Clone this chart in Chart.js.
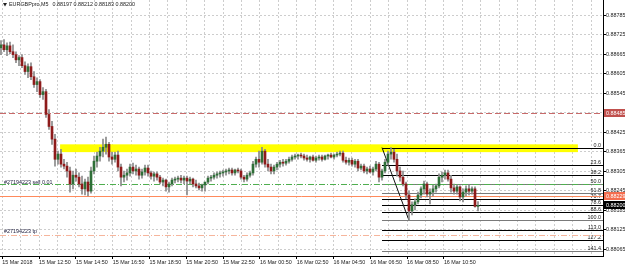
<!DOCTYPE html>
<html>
<head>
<meta charset="utf-8">
<script src="https://cdn.jsdelivr.net/npm/chart.js@4.4.1/dist/chart.umd.min.js"></script>
<style>
  html, body { margin: 0; padding: 0; background: #fff; overflow: hidden; }
  #wrap { width: 625px; height: 267px; position: relative; }
</style>
</head>
<body>
<div id="wrap"><canvas id="chart"></canvas></div>
<script>
/* ── EURGBPpro M5 candles ── */
const open = [
  0.88685,0.88694,0.88679,0.88691,0.88673,0.88664,0.88648,0.88655,0.88630,0.88612,
  0.88627,0.88596,0.88572,0.88581,0.88541,0.88550,0.88480,0.88443,0.88404,0.88342,
  0.88358,0.88327,0.88321,0.88306,0.88266,0.88293,0.88287,0.88266,0.88251,0.88272,
  0.88244,0.88306,0.88336,0.88352,0.88367,0.88379,0.88388,0.88349,0.88342,0.88355,
  0.88318,0.88287,0.88293,0.88300,0.88318,0.88306,0.88312,0.88293,0.88303,0.88315,
  0.88300,0.88290,0.88297,0.88287,0.88272,0.88278,0.88257,0.88266,0.88278,0.88281,
  0.88284,0.88278,0.88284,0.88275,0.88281,0.88266,0.88260,0.88254,0.88263,0.88272,
  0.88284,0.88287,0.88293,0.88297,0.88300,0.88303,0.88306,0.88309,0.88300,0.88309,
  0.88306,0.88287,0.88281,0.88293,0.88300,0.88327,0.88342,0.88333,0.88367,0.88327,
  0.88318,0.88306,0.88318,0.88327,0.88333,0.88330,0.88336,0.88342,0.88349,0.88352,
  0.88355,0.88352,0.88346,0.88342,0.88349,0.88339,0.88346,0.88349,0.88342,0.88352,
  0.88355,0.88349,0.88355,0.88358,0.88361,0.88339,0.88333,0.88339,0.88327,0.88336,
  0.88315,0.88321,0.88306,0.88312,0.88303,0.88312,0.88327,0.88287,0.88306,0.88333,
  0.88358,0.88364,0.88342,0.88306,0.88287,0.88266,0.88232,0.88183,0.88202,0.88211,
  0.88232,0.88251,0.88266,0.88235,0.88241,0.88251,0.88260,0.88287,0.88293,0.88300,
  0.88281,0.88254,0.88244,0.88257,0.88226,0.88241,0.88251,0.88244,0.88251,0.88197
];
const high = [
  0.88707,0.88710,0.88700,0.88703,0.88694,0.88673,0.88661,0.88664,0.88642,0.88636,
  0.88639,0.88612,0.88593,0.88587,0.88563,0.88557,0.88495,0.88459,0.88419,0.88367,
  0.88373,0.88342,0.88333,0.88318,0.88306,0.88312,0.88300,0.88290,0.88281,0.88287,
  0.88318,0.88352,0.88364,0.88379,0.88404,0.88410,0.88394,0.88364,0.88364,0.88367,
  0.88327,0.88306,0.88312,0.88327,0.88330,0.88324,0.88318,0.88312,0.88324,0.88324,
  0.88306,0.88303,0.88303,0.88293,0.88284,0.88281,0.88272,0.88284,0.88287,0.88290,
  0.88293,0.88290,0.88290,0.88287,0.88284,0.88278,0.88269,0.88266,0.88269,0.88290,
  0.88293,0.88300,0.88303,0.88306,0.88309,0.88312,0.88315,0.88315,0.88312,0.88315,
  0.88312,0.88293,0.88300,0.88306,0.88336,0.88349,0.88367,0.88379,0.88373,0.88342,
  0.88327,0.88324,0.88333,0.88339,0.88342,0.88342,0.88349,0.88355,0.88358,0.88358,
  0.88361,0.88358,0.88355,0.88352,0.88355,0.88352,0.88355,0.88355,0.88355,0.88358,
  0.88361,0.88358,0.88364,0.88367,0.88367,0.88349,0.88346,0.88346,0.88342,0.88342,
  0.88327,0.88327,0.88318,0.88321,0.88318,0.88336,0.88333,0.88312,0.88342,0.88367,
  0.88378,0.88373,0.88358,0.88318,0.88306,0.88272,0.88244,0.88211,0.88220,0.88241,
  0.88257,0.88275,0.88272,0.88251,0.88263,0.88266,0.88297,0.88303,0.88309,0.88309,
  0.88293,0.88266,0.88263,0.88260,0.88251,0.88260,0.88263,0.88257,0.88257,0.88212
];
const low = [
  0.88664,0.88673,0.88661,0.88667,0.88655,0.88639,0.88630,0.88624,0.88603,0.88593,
  0.88587,0.88563,0.88550,0.88532,0.88526,0.88471,0.88434,0.88388,0.88321,0.88327,
  0.88318,0.88312,0.88287,0.88241,0.88251,0.88275,0.88257,0.88235,0.88232,0.88229,
  0.88238,0.88297,0.88318,0.88336,0.88349,0.88358,0.88336,0.88327,0.88333,0.88306,
  0.88260,0.88272,0.88278,0.88290,0.88297,0.88293,0.88281,0.88284,0.88293,0.88290,
  0.88281,0.88275,0.88278,0.88266,0.88260,0.88244,0.88241,0.88260,0.88269,0.88272,
  0.88269,0.88266,0.88232,0.88266,0.88257,0.88254,0.88248,0.88244,0.88244,0.88266,
  0.88275,0.88281,0.88284,0.88287,0.88290,0.88293,0.88297,0.88293,0.88293,0.88300,
  0.88281,0.88272,0.88275,0.88287,0.88293,0.88318,0.88318,0.88327,0.88318,0.88306,
  0.88297,0.88297,0.88309,0.88318,0.88321,0.88324,0.88330,0.88336,0.88342,0.88342,
  0.88346,0.88339,0.88336,0.88333,0.88336,0.88333,0.88339,0.88336,0.88339,0.88342,
  0.88346,0.88342,0.88349,0.88352,0.88333,0.88327,0.88324,0.88321,0.88318,0.88306,
  0.88309,0.88300,0.88297,0.88300,0.88293,0.88306,0.88272,0.88278,0.88300,0.88324,
  0.88342,0.88333,0.88290,0.88275,0.88260,0.88220,0.88154,0.88171,0.88186,0.88205,
  0.88223,0.88235,0.88226,0.88205,0.88229,0.88241,0.88254,0.88272,0.88281,0.88275,
  0.88241,0.88235,0.88235,0.88214,0.88211,0.88229,0.88232,0.88235,0.88195,0.88183
];
const close = [
  0.88694,0.88679,0.88691,0.88673,0.88664,0.88648,0.88655,0.88630,0.88612,0.88627,
  0.88596,0.88572,0.88581,0.88541,0.88550,0.88480,0.88443,0.88404,0.88342,0.88358,
  0.88327,0.88321,0.88306,0.88266,0.88293,0.88287,0.88266,0.88251,0.88272,0.88244,
  0.88306,0.88336,0.88352,0.88367,0.88379,0.88388,0.88349,0.88342,0.88355,0.88318,
  0.88287,0.88293,0.88300,0.88318,0.88306,0.88312,0.88293,0.88303,0.88315,0.88300,
  0.88290,0.88297,0.88287,0.88272,0.88278,0.88257,0.88266,0.88278,0.88281,0.88284,
  0.88278,0.88284,0.88275,0.88281,0.88266,0.88260,0.88254,0.88263,0.88272,0.88284,
  0.88287,0.88293,0.88297,0.88300,0.88303,0.88306,0.88309,0.88300,0.88309,0.88306,
  0.88287,0.88281,0.88293,0.88300,0.88327,0.88342,0.88333,0.88367,0.88327,0.88318,
  0.88306,0.88318,0.88327,0.88333,0.88330,0.88336,0.88342,0.88349,0.88352,0.88355,
  0.88352,0.88346,0.88342,0.88349,0.88339,0.88346,0.88349,0.88342,0.88352,0.88355,
  0.88349,0.88355,0.88358,0.88361,0.88339,0.88333,0.88339,0.88327,0.88336,0.88315,
  0.88321,0.88306,0.88312,0.88303,0.88312,0.88327,0.88287,0.88306,0.88333,0.88358,
  0.88364,0.88342,0.88306,0.88287,0.88266,0.88232,0.88183,0.88202,0.88211,0.88232,
  0.88251,0.88266,0.88235,0.88241,0.88251,0.88260,0.88287,0.88293,0.88300,0.88281,
  0.88254,0.88244,0.88257,0.88226,0.88241,0.88251,0.88244,0.88251,0.88197,0.88200
];

/* ── axis labels ── */
const timeLabels = [
  '15 Mar 2018', '15 Mar 12:50', '15 Mar 14:50', '15 Mar 16:50', '15 Mar 18:50',
  '15 Mar 20:50', '15 Mar 22:50', '16 Mar 00:50', '16 Mar 02:50', '16 Mar 04:50',
  '16 Mar 06:50', '16 Mar 08:50', '16 Mar 10:50'
];
const priceTicks = [
  0.88785, 0.88725, 0.88665, 0.88605, 0.88545, 0.88485, 0.88425,
  0.88365, 0.88305, 0.88245, 0.88185, 0.88125, 0.88065
];

/* ── objects on the chart ── */
const header = ['EURGBPpro,M5', '0.88197 0.88212 0.88183 0.88200'];
const alertPrice = 0.88485;          // red dashed line
const sellPrice = 0.88267;           // order line
const orangePrice = 0.88229;         // orange line
const tpPrice = 0.88110;             // take profit
const bidPrice = 0.88200;
const zoneTop = 0.88388, zoneBottom = 0.88364, zoneFrom = 19.7, zoneTo = 192.3;
const fibHigh = 0.88378, fibLow = 0.88154, fibFrom = 127, fibTo = 136;
const fibLevels = [0, 23.6, 38.2, 50, 61.8, 70.7, 78.6, 88.6, 100, 113, 127.2, 141.4];

const FONT = '"Liberation Sans", Arial, sans-serif';
const FS = 5.4;
const UP = '#2f6f38';
const DOWN = '#8e1b1b';
const WICK = '#8a8a8a';

const idx = open.map((_, i) => i);

/* ── Drawing of objects (uses the chart scales) ── */
const objects = {
  id: 'objects',
  beforeDatasetsDraw(chart) {
    const { ctx, chartArea: a, scales: { x, y } } = chart;
    ctx.save();
    ctx.beginPath();
    ctx.rect(a.left, a.top, a.right - a.left, a.bottom - a.top);
    ctx.clip();

    // yellow rectangle
    ctx.fillStyle = '#ffff00';
    const zx1 = x.getPixelForValue(zoneFrom), zx2 = x.getPixelForValue(zoneTo);
    const zy1 = y.getPixelForValue(zoneTop), zy2 = y.getPixelForValue(zoneBottom);
    ctx.fillRect(zx1, zy1, zx2 - zx1, zy2 - zy1);

    const hline = (p, color, dash, x1 = a.left, x2 = a.right) => {
      const py = Math.round(y.getPixelForValue(p)) + 0.5;
      ctx.strokeStyle = color;
      ctx.lineWidth = 1;
      ctx.setLineDash(dash);
      ctx.beginPath();
      ctx.moveTo(x1, py);
      ctx.lineTo(x2, py);
      ctx.stroke();
      return py;
    };

    // fibonacci levels
    const fx = x.getPixelForValue(fibFrom);
    ctx.font = FS + 'px ' + FONT;
    ctx.textAlign = 'right';
    ctx.textBaseline = 'bottom';
    fibLevels.forEach(r => {
      const p = fibHigh - (fibHigh - fibLow) * r / 100;
      const grey = r === 50 || r === 61.8 || r === 100 || r === 141.4;
      const py = hline(p, grey ? '#7a7a7a' : '#000', [], fx, a.right);
      ctx.fillStyle = '#222';
      ctx.fillText(r.toFixed(1), a.right - 2, py);
    });
    ctx.setLineDash([]);
    ctx.strokeStyle = '#111';
    ctx.beginPath();
    ctx.moveTo(x.getPixelForValue(fibFrom), y.getPixelForValue(fibHigh));
    ctx.lineTo(x.getPixelForValue(fibTo), y.getPixelForValue(fibLow));
    ctx.stroke();

    // horizontal lines
    hline(alertPrice, '#c86a6a', [6, 3]);
    const sy = hline(sellPrice, '#4fae4f', [6, 2, 1, 2]);
    hline(orangePrice, '#ff8a5c', []);
    const ty = hline(tpPrice, '#f6b59c', [6, 2, 1, 2]);

    ctx.textAlign = 'left';
    ctx.textBaseline = 'bottom';
    ctx.fillStyle = '#1c1c3c';
    ctx.fillText('#27194223 sell 0.01', 4, sy + 1);
    ctx.fillText('#27194223 tp', 4, ty - 1);
    ctx.restore();
  },
  afterDraw(chart) {
    const { ctx, chartArea: a, scales: { y } } = chart;
    ctx.save();
    ctx.font = FS + 'px ' + FONT;
    ctx.textBaseline = 'middle';
    ctx.textAlign = 'left';

    // header
    ctx.fillStyle = '#222';
    ctx.beginPath();
    ctx.moveTo(3, 3); ctx.lineTo(7, 3); ctx.lineTo(5, 6.5); ctx.closePath();
    ctx.fill();
    ctx.fillText(header[0], 9, 5);
    ctx.fillText(header[1], 9 + ctx.measureText(header[0]).width + 4, 5);

    // price tags on the axis
    const tag = (p, bg, fg) => {
      const py = Math.round(y.getPixelForValue(p));
      ctx.fillStyle = bg;
      ctx.fillRect(a.right + 1, py - 4, chart.width - a.right - 1, 8);
      ctx.fillStyle = fg;
      ctx.fillText(p.toFixed(5), a.right + 3, py + 0.5);
    };
    tag(alertPrice, '#c0504d', '#fff');
    tag(orangePrice, '#f46d4e', '#fff');
    tag(bidPrice, '#000', '#fff');
    ctx.restore();
  }
};

new Chart(document.getElementById('chart'), {
  type: 'bar',
  data: {
    datasets: [
      {
        label: 'wick',
        data: idx.map(i => ({ x: i, y: [low[i], high[i]] })),
        backgroundColor: WICK,
        barThickness: 1,
        grouped: false,
        order: 2
      },
      {
        label: 'body',
        data: idx.map(i => ({ x: i, y: [Math.min(open[i], close[i]), Math.max(open[i], close[i])] })),
        backgroundColor: idx.map(i => (close[i] >= open[i] ? UP : DOWN)),
        barThickness: 2,
        minBarLength: 1,
        grouped: false,
        order: 1
      }
    ]
  },
  options: {
    responsive: true,
    maintainAspectRatio: false,
    animation: false,
    layout: { padding: 0 },
    plugins: { legend: { display: false }, tooltip: { enabled: false } },
    scales: {
      x: {
        type: 'linear',
        offset: false,
        min: -1 / 3,
        max: 201 - 1 / 3,
        grid: {
          offset: false,
          color: '#cdcdcd',
          tickLength: 3,
          tickColor: c => (c.index % 2 === 0 && c.index / 2 < timeLabels.length ? '#000' : 'rgba(0,0,0,0)')
        },
        border: { display: true, color: '#000', dash: [2, 2] },
        afterBuildTicks: s => {
          const t = [];
          for (let k = 0; k <= 32; k++) t.push({ value: 0.433 + 6.133 * k });
          s.ticks = t;
        },
        ticks: {
          autoSkip: false,
          maxRotation: 0,
          minRotation: 0,
          align: 'start',
          padding: 0,
          color: '#222',
          font: { family: FONT, size: FS },
          callback: (v, i) => (i % 2 === 0 ? timeLabels[i / 2] || '' : '')
        },
        afterFit: s => { s.height = 11; s.paddingLeft = 0; s.paddingRight = 0; }
      },
      y: {
        type: 'linear',
        position: 'right',
        min: 0.880444,
        max: 0.888321,
        grid: { color: '#cdcdcd', tickLength: 3, tickColor: '#000' },
        border: { display: true, color: '#000', dash: [2, 2] },
        afterBuildTicks: s => { s.ticks = priceTicks.map(v => ({ value: v })); },
        ticks: {
          autoSkip: false,
          padding: 0,
          color: '#222',
          font: { family: FONT, size: FS },
          callback: v => v.toFixed(5)
        },
        afterFit: s => { s.width = 22; s.paddingTop = 0; s.paddingBottom = 0; }
      }
    }
  },
  plugins: [objects]
});
</script>
</body>
</html>
